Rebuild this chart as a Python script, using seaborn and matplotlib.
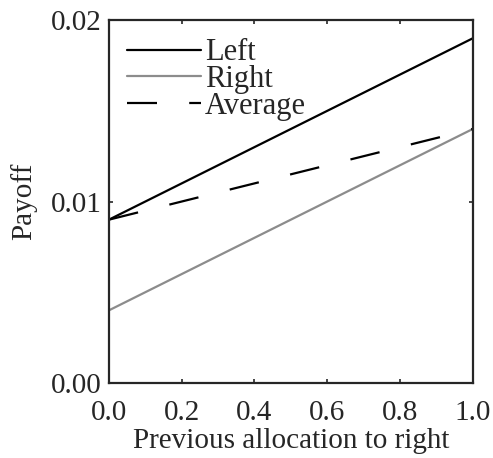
import pandas as pd
import seaborn as sns
import matplotlib.pyplot as plt

# values
alloc = [0.0, 1.0]
left_payoff = [0.009, 0.019]
right_payoff = [0.004, 0.014]
avg_payoff = [0.009, 0.014]

df = pd.DataFrame({
    "alloc": alloc * 3,
    "payoff": left_payoff + right_payoff + avg_payoff,
    "series": ["Left"] * 2 + ["Right"] * 2 + ["Average"] * 2,
})

sns.set_style("ticks")
plt.rcParams['font.family'] = ['Liberation Serif', 'DejaVu Serif']

fig, ax = plt.subplots(figsize=(4.93, 4.58), dpi=100)
fig.subplots_adjust(left=0.221, right=0.959, top=0.956, bottom=0.164)

sns.lineplot(data=df, x="alloc", y="payoff", hue="series", style="series",
             palette={"Left": "black", "Right": "#8c8c8c", "Average": "black"},
             dashes={"Left": "", "Right": "", "Average": (13.5, 14.5)},
             linewidth=1.6, ax=ax)

ax.set_xlim(0, 1)
ax.set_ylim(0, 0.02)
ax.set_xticks([0, 0.2, 0.4, 0.6, 0.8, 1.0])
ax.set_xticklabels(["0.0", "0.2", "0.4", "0.6", "0.8", "1.0"])
ax.set_yticks([0, 0.01, 0.02])
ax.set_yticklabels(["0.00", "0.01", "0.02"])
ax.tick_params(direction="in", length=3, width=1.2, labelsize=21, top=True, right=True, pad=5)
ax.tick_params(axis="x", pad=12)
for s in ax.spines.values():
    s.set_linewidth(1.6)
ax.set_xlabel("Previous allocation to right", fontsize=21, labelpad=2)
ax.set_ylabel("Payoff", fontsize=21, labelpad=10)

leg = ax.legend(loc="upper left", frameon=False, fontsize=22, handlelength=2.4,
                handletextpad=0.15, labelspacing=-0.08, borderaxespad=0.3,
                borderpad=0.3)

plt.savefig("out.png", dpi=100)
